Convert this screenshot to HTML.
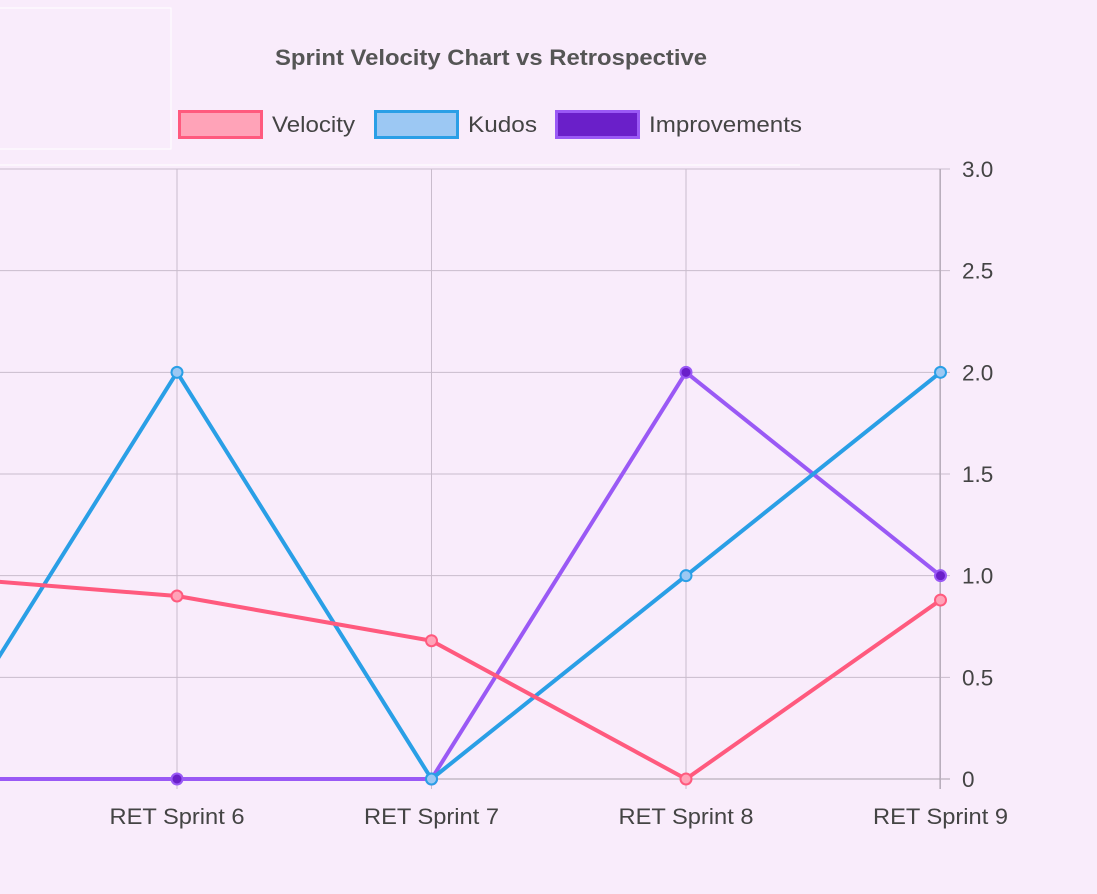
<!DOCTYPE html>
<html><head><meta charset="utf-8"><style>
html,body{margin:0;padding:0;background:#f9ecfb;}
svg{display:block;font-family:"Liberation Sans",sans-serif;}
</style></head><body>
<svg id="chart" width="1097" height="894" viewBox="0 0 1097 894">
<rect x="0" y="0" width="1097" height="894" fill="#f9ecfb"/>
<rect x="-10" y="8" width="181" height="141" fill="none" stroke="#ffffff" stroke-width="1"/>
<line x1="0" y1="165" x2="800" y2="165" stroke="#ffffff" stroke-width="1"/>
<text x="275" y="65" font-size="22" font-weight="bold" fill="#555" textLength="432" lengthAdjust="spacingAndGlyphs">Sprint Velocity Chart vs Retrospective</text>
<g id="legend"></g>
<g id="grid"></g>
<g id="series"></g>
</svg>
<script>
const categories = ["RET Sprint 5","RET Sprint 6","RET Sprint 7","RET Sprint 8","RET Sprint 9"];
const velocity = [1.0, 0.9, 0.68, 0, 0.88];
const kudos = [0, 2, 0, 1, 2];
const improvements = [0, 0, 0, 2, 1];
const yTicks = [0, 0.5, 1.0, 1.5, 2.0, 2.5, 3.0];
const yTickLabels = ["0","0.5","1.0","1.5","2.0","2.5","3.0"];
const seriesNames = ["Velocity","Kudos","Improvements"];

const NS = "http://www.w3.org/2000/svg";
const x0 = 177 - 254.5, dx = 254.5;
const xs = i => x0 + i * dx;
const ys = v => 779 - v * (610 / 3);
function mk(tag, attrs, parent){const e=document.createElementNS(NS,tag);for(const k in attrs)e.setAttribute(k,attrs[k]);parent.appendChild(e);return e;}
const grid = document.getElementById('grid');
yTicks.forEach((t,i)=>{
  const l = mk('line',{x1:0,x2:950,y1:ys(t),y2:ys(t),stroke:t===0?'#a9a0ab':'#c9bccc','stroke-width':1},grid);
  
  
  const tx = mk('text',{x:962,y:ys(t)+8,'font-size':22.5,fill:'#444'},grid);
  tx.textContent = yTickLabels[i];
  
  
});
categories.forEach((c,i)=>{
  const x = xs(i);
  const l = mk('line',{x1:x,x2:x,y1:169,y2:789,stroke:'#c9bccc','stroke-width':1},grid);
  
  
  const tx = mk('text',{x:x-67.5,y:824,'font-size':22.5,fill:'#444',textLength:135,lengthAdjust:'spacingAndGlyphs'},grid);
  tx.textContent = c;
  
  
});
const ax = mk('line',{x1:940,x2:940,y1:169,y2:789,stroke:'#a9a0ab','stroke-width':1},grid);



const styles = [
  {data:velocity, stroke:'#ff5a7e', fill:'#ffa3b8'},
  {data:kudos, stroke:'#2a9fe6', fill:'#9cc8f3'},
  {data:improvements, stroke:'#9a59f5', fill:'#6a1fc9'}
];
const sg = document.getElementById('series');
[2,1,0].forEach(si=>{
  const s = styles[si];
  const pts = s.data.map((v,i)=>xs(i)+','+ys(v)).join(' ');
  const pl = mk('polyline',{points:pts,fill:'none',stroke:s.stroke,'stroke-width':4,'stroke-linejoin':'round'},sg);
  
  
  s.data.forEach((v,i)=>{
    const c = mk('circle',{cx:xs(i),cy:ys(v),r:5.5,fill:s.fill,stroke:s.stroke,'stroke-width':2},sg);
    
    
  });
});
const lg = document.getElementById('legend');
const lx = [178, 374, 555];
const lw = [83, 69, 153];
seriesNames.forEach((n,i)=>{
  const s = styles[i];
  const r = mk('rect',{x:lx[i]+1.5,y:111.5,width:82,height:26,fill:s.fill,stroke:s.stroke,'stroke-width':3},lg);
  
  
  const t = mk('text',{x:lx[i]+94,y:132,'font-size':22.5,fill:'#444',textLength:lw[i],lengthAdjust:'spacingAndGlyphs'},lg);
  t.textContent = n;
  
  
});
</script>
</body></html>
